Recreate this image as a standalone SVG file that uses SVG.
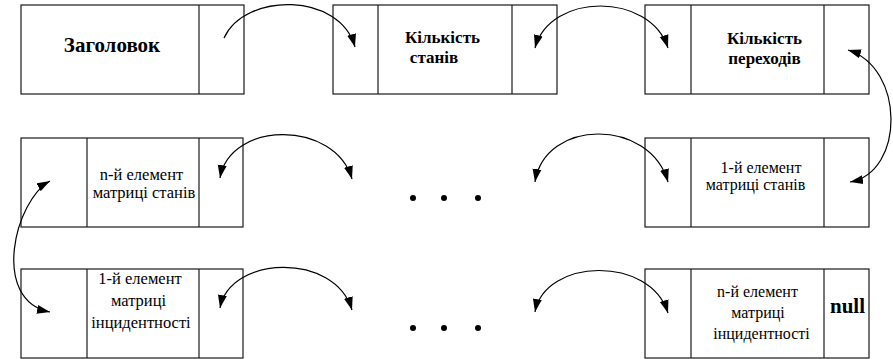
<svg xmlns="http://www.w3.org/2000/svg" width="893" height="359" viewBox="0 0 893 359">
<style>
.box{fill:#fff;stroke:#1a1a1a;stroke-width:1.2}
.div{stroke:#1a1a1a;stroke-width:1.2}
.t{font-family:"Liberation Serif","Times New Roman",serif;fill:#000;text-anchor:middle}
.b{font-weight:bold}
.arc{fill:none;stroke:#000;stroke-width:1.2}
</style>
<defs>
<marker id="ah" markerUnits="userSpaceOnUse" markerWidth="14" markerHeight="10" refX="13" refY="4.5" orient="auto-start-reverse" viewBox="0 0 14 9">
<path d="M0,0 L13,4.5 L0,9 z" fill="#000"/>
</marker>
</defs>
<rect width="893" height="359" fill="#fff"/>

<g id="header">
<rect class="box" x="21" y="5" width="223" height="89"/>
<line class="div" x1="199" y1="5" x2="199" y2="94"/>
<text class="t b" x="112" y="52" font-size="21">Заголовок</text>
</g>

<g id="states-count">
<rect class="box" x="333" y="5" width="224" height="89"/>
<line class="div" x1="378" y1="5" x2="378" y2="94"/>
<line class="div" x1="512" y1="5" x2="512" y2="94"/>
<text class="t b" x="442.5" y="43" font-size="17">Кількість</text>
<text class="t b" x="434" y="63" font-size="17">станів</text>
</g>

<g id="transitions-count">
<rect class="box" x="645" y="5" width="224" height="89"/>
<line class="div" x1="691" y1="5" x2="691" y2="94"/>
<line class="div" x1="824" y1="5" x2="824" y2="94"/>
<text class="t b" x="764.5" y="44" font-size="17">Кількість</text>
<text class="t b" x="764.5" y="64" font-size="17">переходів</text>
</g>

<g id="state-n">
<rect class="box" x="21" y="138" width="222" height="89"/>
<line class="div" x1="87" y1="138" x2="87" y2="227"/>
<line class="div" x1="199" y1="138" x2="199" y2="227"/>
<text class="t" x="141.5" y="180" font-size="16.5">n-й елемент</text>
<text class="t" x="144" y="198" font-size="16.5">матриці станів</text>
</g>

<g id="state-1">
<rect class="box" x="645" y="138" width="224" height="89"/>
<line class="div" x1="691" y1="138" x2="691" y2="227"/>
<line class="div" x1="824" y1="138" x2="824" y2="227"/>
<text class="t" x="761" y="173" font-size="16">1-й елемент</text>
<text class="t" x="755.5" y="190" font-size="16">матриці станів</text>
</g>

<g id="incidence-1">
<rect class="box" x="21" y="269" width="222" height="89"/>
<line class="div" x1="87" y1="269" x2="87" y2="358"/>
<line class="div" x1="199" y1="269" x2="199" y2="358"/>
<text class="t" x="140" y="284" font-size="16.5">1-й елемент</text>
<text class="t" x="138.5" y="306" font-size="16.5">матриці</text>
<text class="t" x="141" y="328" font-size="16.5">інцидентності</text>
</g>

<g id="incidence-n">
<rect class="box" x="645" y="269" width="224" height="89"/>
<line class="div" x1="691" y1="269" x2="691" y2="358"/>
<line class="div" x1="824" y1="269" x2="824" y2="358"/>
<text class="t" x="757.5" y="297" font-size="16">n-й елемент</text>
<text class="t" x="758" y="318" font-size="16">матриці</text>
<text class="t" x="761.5" y="339" font-size="16">інцидентності</text>
<text class="t b" x="847.5" y="313" font-size="21">null</text>
</g>

<g id="ellipsis">
<circle cx="413" cy="198" r="3"/>
<circle cx="444" cy="198" r="3"/>
<circle cx="478" cy="198" r="3"/>
<circle cx="413" cy="328" r="3"/>
<circle cx="444" cy="328" r="3"/>
<circle cx="478" cy="328" r="3"/>
</g>

<g id="connectors">
<path class="arc" d="M224,38 C245,-8 340,-8 355,47" marker-end="url(#ah)"/>
<path class="arc" d="M535,48 C550,-8 650,-8 668,48" marker-start="url(#ah)" marker-end="url(#ah)"/>
<path class="arc" d="M848,50 C905,68 905,172 850,182" marker-start="url(#ah)" marker-end="url(#ah)"/>
<path class="arc" d="M220,178 C230,120 335,120 352,179" marker-start="url(#ah)" marker-end="url(#ah)"/>
<path class="arc" d="M535,182 C545,118 650,118 668,182" marker-start="url(#ah)" marker-end="url(#ah)"/>
<path class="arc" d="M50,181 C15,200 -10,300 50,312" marker-start="url(#ah)" marker-end="url(#ah)"/>
<path class="arc" d="M220,308 C230,255 335,252 352,310" marker-start="url(#ah)" marker-end="url(#ah)"/>
<path class="arc" d="M535,312 C545,258 650,255 668,313" marker-start="url(#ah)" marker-end="url(#ah)"/>
</g>
</svg>
